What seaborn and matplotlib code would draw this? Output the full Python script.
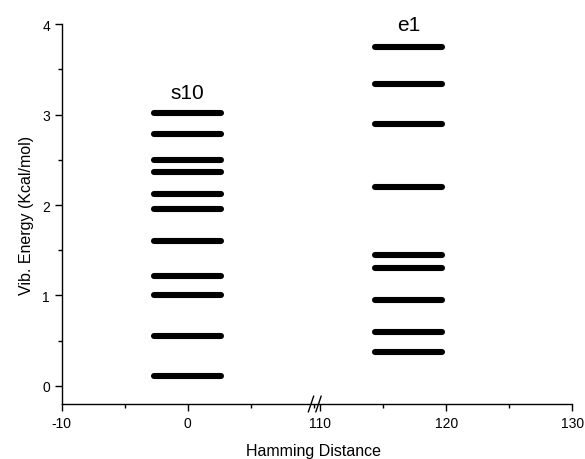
import numpy as np
import pandas as pd
import matplotlib
matplotlib.use("Agg")
import matplotlib.pyplot as plt
import seaborn as sns
from matplotlib.ticker import MultipleLocator
from matplotlib.lines import Line2D

# ---- data ----
s10_x = 0
s10_levels = [3.015, 2.786, 2.494, 2.365, 2.118, 1.956, 1.598, 1.210, 1.000, 0.546, 0.107]
e1_x = 117
e1_levels = [3.753, 3.343, 2.893, 2.196, 1.446, 1.299, 0.945, 0.598, 0.369]
half_width = 2.65
x_ticks_left = [-10, 0]
x_ticks_right = [110, 120, 130]
y_ticks = [0, 1, 2, 3, 4]


def level_frame(center, levels, name):
    rows = []
    for i, e in enumerate(levels):
        rows.append({"x": center - half_width, "E": e, "level": f"{name}{i}"})
        rows.append({"x": center + half_width, "E": e, "level": f"{name}{i}"})
    return pd.DataFrame(rows)


df_s10 = level_frame(s10_x, s10_levels, "s10_")
df_e1 = level_frame(e1_x, e1_levels, "e1_")

sns.set_style("ticks")
plt.rcParams["font.family"] = ["Liberation Sans", "DejaVu Sans"]
plt.rcParams["axes.unicode_minus"] = False
plt.rcParams["text.color"] = "black"
plt.rcParams["axes.labelcolor"] = "black"
plt.rcParams["xtick.color"] = "black"
plt.rcParams["ytick.color"] = "black"
plt.rcParams["axes.edgecolor"] = "black"

W, H = 585, 460
fig = plt.figure(figsize=(W / 100, H / 100), dpi=100)

x_left, x_break, x_right = 61.7, 315.0, 572.3
y_bottom, y_top = 405.0, 25.3
axb = (H - y_bottom) / H
axh = (y_bottom - y_top) / H
ax1 = fig.add_axes([x_left / W, axb, (x_break - x_left) / W, axh])
ax2 = fig.add_axes([x_break / W, axb, (x_right - x_break) / W, axh])

px_per_unit = 12.6
ymin = -(405 - 386.7) / 90.35

for ax, df in ((ax1, df_s10), (ax2, df_e1)):
    sns.lineplot(data=df, x="x", y="E", units="level", estimator=None,
                 color="black", lw=4.4, solid_capstyle="round", ax=ax,
                 legend=False)
    ax.set_ylim(ymin, 4)
    ax.set_xlabel("")
    ax.set_ylabel("")
    for s in ("top", "right"):
        ax.spines[s].set_visible(False)
    ax.spines["bottom"].set_linewidth(1.0)
    ax.spines["left"].set_linewidth(1.0)
    ax.tick_params(which="major", direction="out", length=5, width=1,
                   labelsize=10, color="black", labelcolor="black")
    ax.tick_params(which="minor", direction="out", length=3, width=1,
                   color="black")

ax1.set_xlim(-10, (x_break - 187.7) / px_per_unit)
ax2.set_xlim(110 - (320 - x_break) / px_per_unit, 130)

ax1.set_xticks(x_ticks_left)
ax1.xaxis.set_minor_locator(MultipleLocator(5))
ax2.set_xticks(x_ticks_right)
ax2.xaxis.set_minor_locator(MultipleLocator(5))

ax1.set_yticks(y_ticks)
ax1.yaxis.set_minor_locator(MultipleLocator(0.5))
ax2.spines["left"].set_visible(False)
ax2.tick_params(axis="y", which="both", left=False, labelleft=False)

ax1.set_ylabel("Vib. Energy (Kcal/mol)", fontsize=11.5, labelpad=6)
fig.text(313 / W, 1 - 452 / H, "Hamming Distance", ha="center", va="center",
         fontsize=11.5)

ax1.text(s10_x, 3.18, "s10", ha="center", va="baseline", fontsize=15,
         clip_on=False)
ax2.text(e1_x, 3.94, "e1", ha="center", va="baseline", fontsize=15,
         clip_on=False)

# break marks on the x axis
for cx in (311.0, 318.5):
    xs = [(cx - 2.7) / W, (cx + 2.7) / W]
    ys = [1 - 413 / H, 1 - 397 / H]
    fig.add_artist(Line2D(xs, ys, color="black", lw=1.0))

fig.savefig("out.png", dpi=100)
